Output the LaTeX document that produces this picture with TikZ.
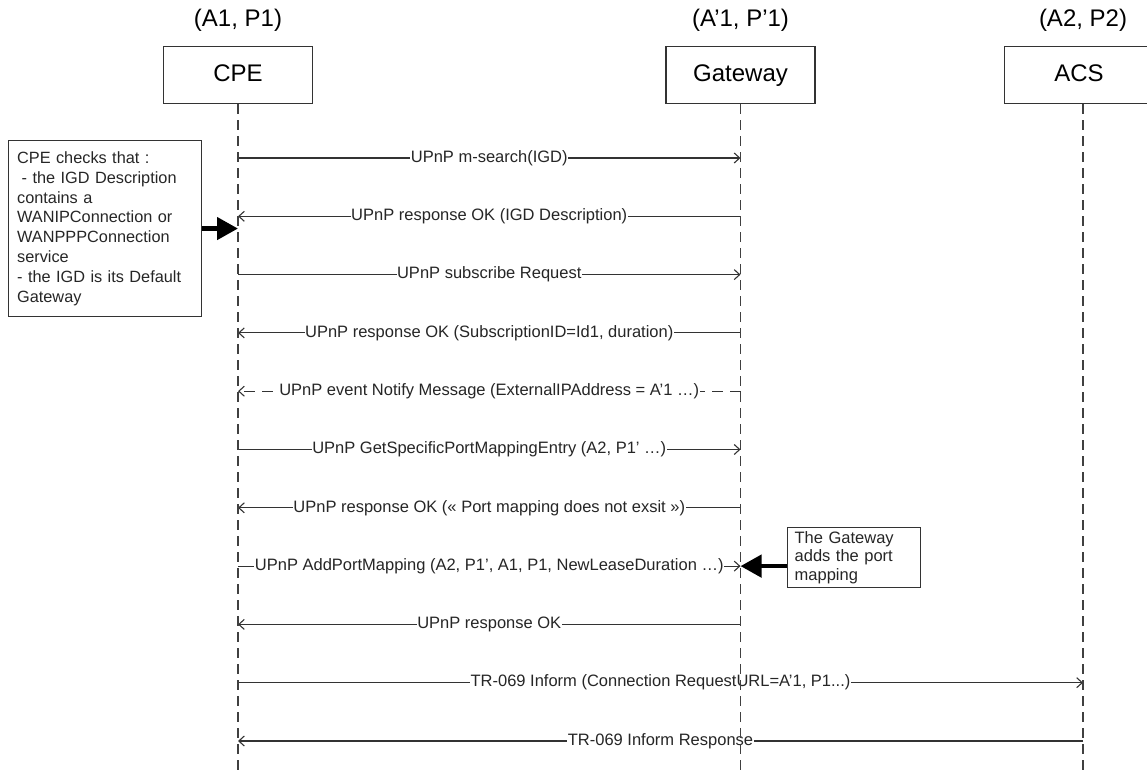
\documentclass[tikz,border=0pt]{standalone}
\usepackage{fontspec}
\setmainfont{Liberation Sans}
\usetikzlibrary{arrows.meta,positioning}

\tikzset{
  actor/.style={draw=black!80, line width=1.5pt, minimum width=149pt, minimum height=57pt, inner sep=0pt, text height=17pt, text depth=4pt, font=\fontsize{24}{28}\selectfont},
  addr/.style={inner sep=0pt, font=\fontsize{24}{28}\selectfont},
  lifeline/.style={black!75, line width=1.1pt, dash pattern=on 10pt off 6pt},
  msg/.style={black!80, line width=1.1pt, -{Straight Barb[length=5.5pt,width=10pt]}},
  msglabel/.style={fill=white, text=black!85, inner xsep=0.5pt, inner ysep=1pt, font=\fontsize{16.5}{19}\selectfont},
  note/.style={draw=black!80, line width=1.3pt, align=left, text=black!85, anchor=north west},
  pointer/.style={black, line width=4.5pt, -{Triangle[length=21pt,width=22pt]}},
}

\begin{document}
\begin{tikzpicture}[x=1pt, y=-1pt]
	\useasboundingbox (0,0) rectangle (1147,775);
	\clip (0,0) rectangle (1147,775);
	% participants
	\node[addr] (cpeaddr) at (238,20) {(A1, P1)};
	\node[addr] (gwaddr) at (740.5,20) {(A’1, P’1)};
	\node[addr] (acsaddr) at (1083,20) {(A2, P2)};
	\node[actor] (cpe) at (238,75) {CPE};
	\node[actor] (gw) at (740.5,75) {Gateway};
	\node[actor] (acs) at (1079,75) {ACS};
	\coordinate (cpeend) at (cpe.south |- 0,775);
	\coordinate (gwend) at (gw.south |- 0,775);
	\coordinate (acsend) at (1083,775);
	\coordinate (acstop) at (acsend |- acs.south);
	% message rows
	\foreach \n/\y in {1/158, 2/216.3, 3/274.6, 4/332.9, 5/391.2, 6/449.5, 7/507.8, 8/566.1, 9/624.4, 10/682.7, 11/741}
	{
		\coordinate (cpe\n) at (cpe.south |- 0,\y);
		\coordinate (gw\n) at (gw.south |- 0,\y);
		\coordinate (acs\n) at (acsend |- 0,\y);
	}
	% messages
	\draw[msg] (cpe1) -- node[msglabel]{UPnP m-search(IGD)} (gw1);
	\draw[msg] (gw2) -- node[msglabel]{UPnP response OK (IGD Description)} (cpe2);
	\draw[msg] (cpe3) -- node[msglabel]{UPnP subscribe Request} (gw3);
	\draw[msg] (gw4) -- node[msglabel]{UPnP response OK (SubscriptionID=Id1, duration)} (cpe4);
	\draw[msg, dash pattern=on 11pt off 7pt] (gw5) -- node[msglabel]{UPnP event Notify Message (ExternalIPAddress = A’1 …)} (cpe5);
	\draw[msg] (cpe6) -- node[msglabel]{UPnP GetSpecificPortMappingEntry (A2, P1' …)} (gw6);
	\draw[msg] (gw7) -- node[msglabel]{UPnP response OK (« Port mapping does not exsit »)} (cpe7);
	\draw[msg] (cpe8) -- node[msglabel]{UPnP AddPortMapping (A2, P1', A1, P1, NewLeaseDuration …)} (gw8);
	\draw[msg] (gw9) -- node[msglabel]{UPnP response OK} (cpe9);
	\draw[msg] (cpe10) -- node[msglabel]{TR-069 Inform (Connection RequestURL=A'1, P1...)} (acs10);
	\draw[msg] (acs11) -- node[msglabel]{TR-069 Inform Response} (cpe11);
	% notes
	\node[note, text width=176pt, inner xsep=8.5pt, inner ysep=11pt, font=\fontsize{16.3}{19.8}\selectfont] (cpenote) at (8,140)
		{CPE checks that :\\\hspace*{0.28em}- the IGD Description\\contains a\\WANIPConnection or\\WANPPPConnection\\service\\- the IGD is its Default\\Gateway};
	\draw[pointer] (cpenote.east) -- (cpenote.east -| cpe.south);
	\node[note, text width=119pt, inner xsep=7pt, inner ysep=3.5pt, font=\fontsize{16.5}{18.7}\selectfont] (gwnote) at (787,527)
		{The Gateway\\adds the port\\mapping};
	\draw[pointer] (gwnote.west |- gw8) -- (gw8);
	% lifelines
	\draw[lifeline] (cpe.south) -- (cpeend);
	\draw[lifeline] (gw.south) -- (gwend);
	\draw[lifeline] (acstop) -- (acsend);
\end{tikzpicture}
\end{document}
